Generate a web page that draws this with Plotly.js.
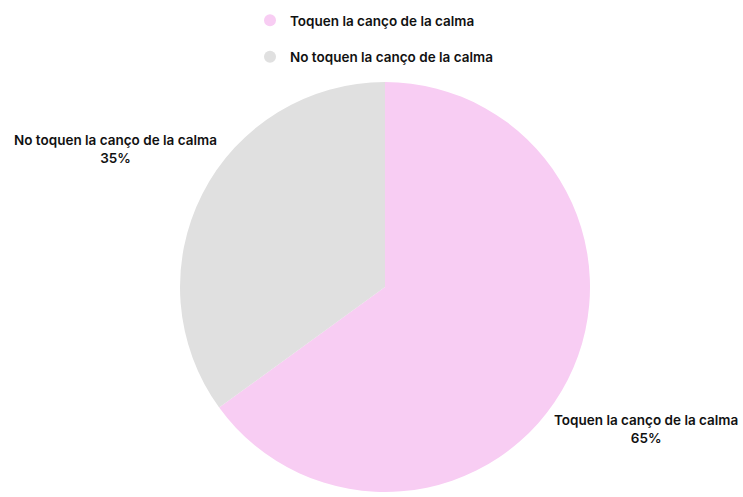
<!DOCTYPE html>
<html>
<head>
<meta charset="utf-8">
<script src="https://cdn.plot.ly/plotly-3.0.1.min.js"></script>
<style>html,body{margin:0;padding:0;background:#fff;}#chart{width:743px;height:497px;}</style>
</head>
<body>
<div id="chart"></div>
<script>
const categories = ["Toquen la canço de la calma", "No toquen la canço de la calma"];
const values = [65, 35];
const colors = ["#F8CDF3", "#E0E0E0"];

const W = 743, H = 497;
const cx = 385, cy = 287, r = 205;

const fontFam = "Inter, 'Noto Sans', sans-serif";

const traces = [{
  type: "pie",
  labels: categories,
  values: values,
  marker: {colors: colors, line: {width: 0}},
  sort: false,
  direction: "clockwise",
  rotation: 0,
  textinfo: "none",
  hoverinfo: "label+percent",
  showlegend: false,
  domain: {x: [(cx - r) / W, (cx + r) / W], y: [(H - cy - r) / H, (H - cy + r) / H]}
}];

// legend entries (circle markers) as empty traces
categories.forEach((c, i) => {
  traces.push({
    type: "scatter", x: [null], y: [null], mode: "markers",
    name: c, legendgroup: "g" + i,
    marker: {color: colors[i], size: 12, symbol: "circle"},
    xaxis: "x", yaxis: "y", hoverinfo: "skip"
  });
});

const total = values.reduce((a, b) => a + b, 0);
const labelPos = [{x: 646, y: 429}, {x: 115, y: 149}];
const annotations = categories.map((c, i) => ({
  text: c + "<br>" + Math.round(values[i] / total * 100) + "%",
  x: labelPos[i].x / W, y: 1 - labelPos[i].y / H,
  xref: "paper", yref: "paper", showarrow: false,
  xanchor: "center", yanchor: "middle", align: "center",
  font: {family: fontFam, size: 13.5, color: "#111", weight: 600}
}));

const layout = {
  width: W, height: H,
  margin: {l: 0, r: 0, t: 0, b: 0},
  paper_bgcolor: "#fff", plot_bgcolor: "#fff",
  xaxis: {visible: false, range: [0, 1]}, yaxis: {visible: false, range: [0, 1]},
  showlegend: true,
  legend: {
    x: 250 / W, y: 1 - 5 / H, xanchor: "left", yanchor: "top",
    orientation: "v", tracegroupgap: 16, itemclick: false, itemdoubleclick: false,
    font: {family: fontFam, size: 13.5, color: "#111", weight: 600},
    bgcolor: "rgba(0,0,0,0)"
  },
  annotations: annotations
};

Plotly.newPlot("chart", traces, layout, {displayModeBar: false, staticPlot: true});
</script>
</body>
</html>
